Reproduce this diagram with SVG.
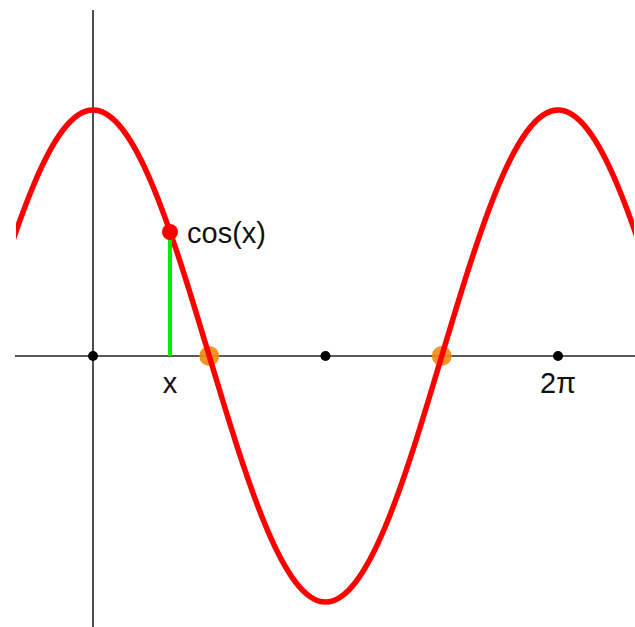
<svg xmlns="http://www.w3.org/2000/svg" width="635" height="627" viewBox="0 0 635 627">
  <style>
    .axis { stroke: #222; stroke-width: 1.6; fill: none; }
    .curve { stroke: #ff0000; stroke-width: 5.5; fill: none; }
    .tick { fill: #000; }
    .zero { fill: #f08a10; opacity: 0.9; }
    .lbl { font-family: "Liberation Sans", Arial, sans-serif; font-size: 29px; fill: #111; }
  </style>
  <defs>
    <clipPath id="clip"><rect x="16" y="0" width="618" height="627"/></clipPath>
  </defs>
  <rect width="635" height="627" fill="#fff"/>
  <g id="axes">
    <line class="axis" x1="93" y1="10" x2="93" y2="627"/>
    <line class="axis" x1="15" y1="356" x2="635" y2="356"/>
  </g>
  <g id="zeros">
    <circle class="zero" cx="209.25" cy="356" r="10"/>
    <circle class="zero" cx="441.75" cy="356" r="10"/>
  </g>
  <g id="ticks">
    <circle class="tick" cx="93" cy="356" r="5"/>
    <circle class="tick" cx="325.5" cy="356" r="5"/>
    <circle class="tick" cx="558" cy="356" r="5"/>
  </g>
  <g id="cosine" clip-path="url(#clip)">
    <path class="curve" d="M-23.25,356 C14.66,230 50.93,110 93,110 C135.07,110 171.34,230 209.25,356 C247.16,482 283.43,602 325.5,602 C367.93,602 404.2,482 441.75,356 C479.66,230 515.93,110 558,110 C600.07,110 636.34,230 674.25,356"/>
  </g>
  <g id="value">
    <line x1="170" y1="232" x2="170" y2="356" stroke="#00ee00" stroke-width="4"/>
    <circle cx="170" cy="232" r="8" fill="#ff0000"/>
  </g>
  <g id="labels">
    <text class="lbl" x="187" y="243">cos(x)</text>
    <text class="lbl" x="170" y="393" text-anchor="middle">x</text>
    <text class="lbl" x="558" y="393" text-anchor="middle">2π</text>
  </g>
</svg>
